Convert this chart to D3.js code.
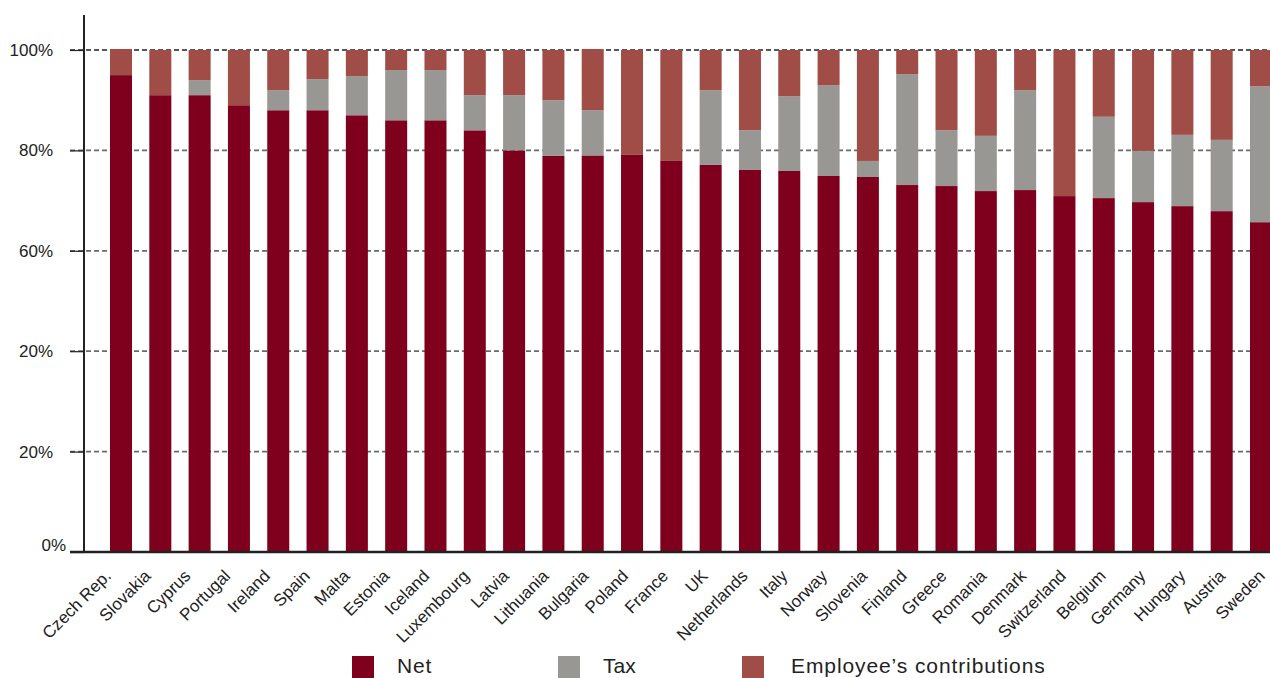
<!DOCTYPE html>
<html>
<head>
<meta charset="utf-8">
<script src="https://cdn.jsdelivr.net/npm/d3@7"></script>
<style>
  html, body { margin: 0; padding: 0; background: #fff; }
  svg { display: block; }
  text { font-family: "Liberation Sans", Arial, Helvetica, sans-serif; fill: #222; }
</style>
</head>
<body>
<svg id="chart" width="1270" height="678"></svg>
<script>
const countries = ["Czech Rep.","Slovakia","Cyprus","Portugal","Ireland","Spain","Malta","Estonia","Iceland","Luxembourg","Latvia","Lithuania","Bulgaria","Poland","France","UK","Netherlands","Italy","Norway","Slovenia","Finland","Greece","Romania","Denmark","Switzerland","Belgium","Germany","Hungary","Austria","Sweden"];
const netValues = [95, 91, 91, 89, 88, 88, 87, 86, 86, 84, 80, 78.9, 79, 79.1, 77.9, 77.1, 76.1, 75.9, 74.9, 74.7, 73.1, 72.9, 71.9, 72.1, 70.9, 70.5, 69.7, 68.9, 67.9, 65.7];
const taxValues = [0, 0, 3, 0, 4, 6.2, 7.8, 10, 10, 7, 11, 11.1, 9, 0, 0, 14.9, 7.9, 14.9, 18.1, 3.2, 22.1, 11.1, 11, 19.9, 0, 16.2, 10.2, 14.2, 14.2, 27.1];
const empValues = [5.2, 9, 6, 11, 8, 5.8, 5.2, 4, 4, 9, 9, 10, 12.2, 20.9, 22.1, 8, 16, 9.2, 7, 22.1, 4.8, 16, 17.1, 8, 29.1, 13.3, 20.1, 16.9, 17.9, 7.2];
const seriesNames = ["Net", "Tax", "Employee\u2019s contributions"];
const seriesColors = ["#7f001d", "#989793", "#a04d48"];
const yTickValues = [0, 20, 40, 60, 80, 100];
const yTickLabels = ["0%", "20%", "20%", "60%", "80%", "100%"];

const svg = d3.select("#chart");
const W = 1270;
const baseY = 552, topY = 50, axisX = 84;

const x = d3.scaleBand().domain(countries).range([110, 1272]).paddingInner(0.44).paddingOuter(0);
const labelPos = d3.scalePoint().domain(countries).range([112, 1266]);
const y = d3.scaleLinear().domain([0, 100]).range([baseY, topY]);

// gridlines (behind bars)
svg.append("g").selectAll("line").data(yTickValues.filter(v => v > 0)).join("line")
  .attr("x1", 70).attr("x2", W)
  .attr("y1", d => y(d)).attr("y2", d => y(d))
  .attr("stroke", d => d === 100 ? "#222" : "#6a6a6a")
  .attr("stroke-width", d => d === 100 ? 1.6 : 1.8)
  .attr("stroke-dasharray", "5,3");

// stacked data
const rows = countries.map((c, i) => ({ country: c, net: netValues[i], tax: taxValues[i], emp: empValues[i] }));
const stack = d3.stack().keys(["net", "tax", "emp"]);
const stacked = stack(rows);

svg.append("g").selectAll("g").data(stacked).join("g")
  .attr("fill", (d, i) => seriesColors[i])
  .selectAll("rect").data(d => d).join("rect")
  .attr("x", d => x(d.data.country))
  .attr("width", x.bandwidth())
  .attr("y", d => y(d[1]))
  .attr("height", d => y(d[0]) - y(d[1]));

// y axis
const yAxis = d3.axisLeft(y).tickValues(yTickValues)
  .tickFormat((d, i) => yTickLabels[i]).tickSize(14).tickPadding(17);
const gy = svg.append("g").attr("transform", `translate(${axisX},0)`).call(yAxis);
gy.select(".domain").remove();
gy.selectAll(".tick line").attr("stroke", "#222").attr("stroke-width", 1.2);
gy.selectAll(".tick text").attr("font-size", 17).attr("fill", "#222")
  .attr("font-family", "'Liberation Sans', Arial, sans-serif")
  .attr("transform", d => d === 0 ? "translate(13,-7)" : null);
svg.append("line").attr("x1", axisX).attr("x2", axisX).attr("y1", 15).attr("y2", baseY)
  .attr("stroke", "#222").attr("stroke-width", 2);

// x axis labels
const xAxis = d3.axisBottom(x).tickSize(0).tickPadding(0);
const gx = svg.append("g").attr("transform", `translate(0,${baseY})`).call(xAxis);
gx.select(".domain").remove();
gx.selectAll(".tick text")
  .attr("font-size", 17).attr("fill", "#222")
  .attr("font-family", "'Liberation Sans', Arial, sans-serif")
  .attr("text-anchor", "end")
  .attr("dy", 0)
  .attr("transform", d => `translate(${labelPos(d) - (x(d) + x.bandwidth() / 2)},25) rotate(-45)`);
svg.append("line").attr("x1", 70).attr("x2", W).attr("y1", baseY).attr("y2", baseY)
  .attr("stroke", "#222").attr("stroke-width", 2.4);

// legend
const legendX = [352, 558, 742];
const lg = svg.append("g").selectAll("g").data(seriesNames).join("g")
  .attr("transform", (d, i) => `translate(${legendX[i]},656)`);
lg.append("rect").attr("width", 22).attr("height", 22).attr("fill", (d, i) => seriesColors[i]);
lg.append("text").attr("x", (d, i) => [45, 45, 49][i]).attr("y", 17)
  .attr("font-size", 21).attr("fill", "#222")
  .attr("letter-spacing", (d, i) => [0.8, 0, 0.9][i])
  .text(d => d);
</script>
</body>
</html>
